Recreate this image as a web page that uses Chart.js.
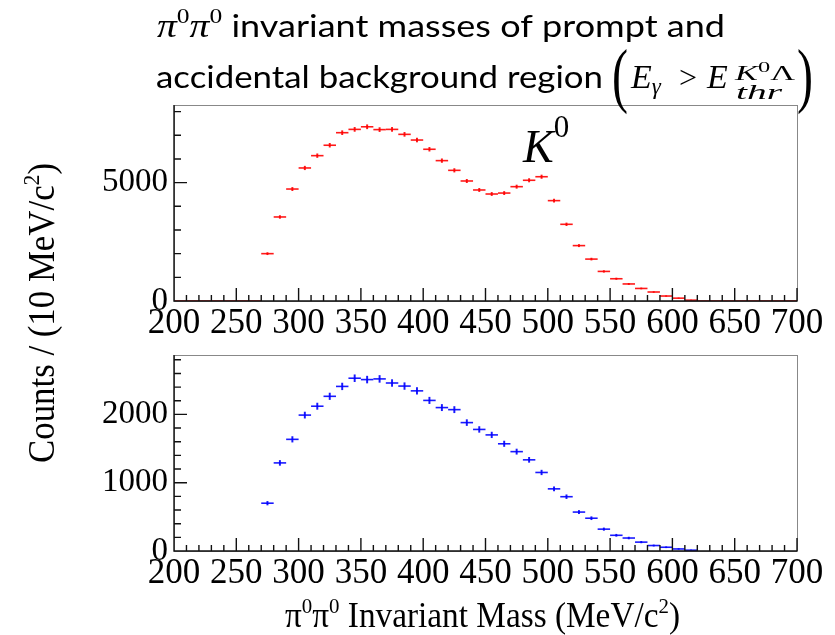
<!DOCTYPE html>
<html>
<head>
<meta charset="utf-8">
<script src="https://cdn.jsdelivr.net/npm/chart.js@4.4.1/dist/chart.umd.min.js"></script>
<style>
    html, body { margin: 0; padding: 0; background: #fff; }
    #wrap { position: relative; width: 835px; height: 635px; }
    #wrap canvas { position: absolute; left: 0; top: 0; }
</style>
</head>
<body>
<div id="wrap">
    <canvas id="prompt-chart" width="835" height="635"></canvas>
    <canvas id="accidental-chart" width="835" height="635"></canvas>
</div>
<script>
// 10 MeV bins from 200 to 700
const binCenters = [205, 215, 225, 235, 245, 255, 265, 275, 285, 295,
                    305, 315, 325, 335, 345, 355, 365, 375, 385, 395,
                    405, 415, 425, 435, 445, 455, 465, 475, 485, 495,
                    505, 515, 525, 535, 545, 555, 565, 575, 585, 595,
                    605, 615, 625, 635, 645, 655, 665, 675, 685, 695];
const binWidth = 10;

// prompt region (red)
const promptCounts = [0, 0, 0, 0, 0, 0, 0, 2000, 3550, 4730,
                      5620, 6140, 6580, 7110, 7250, 7360, 7240, 7250, 7040, 6800,
                      6410, 5930, 5520, 5070, 4690, 4520, 4560, 4830, 5100, 5250,
                      4240, 3240, 2340, 1770, 1250, 940, 720, 530, 380, 210,
                      120, 35, 0, 0, 0, 0, 0, 0, 0, 0];
// accidental background region (blue)
const accidentalCounts = [null, null, null, null, null, null, null, 700, 1290, 1635,
                          1990, 2120, 2265, 2410, 2530, 2510, 2520, 2460, 2415, 2345,
                          2205, 2100, 2070, 1880, 1780, 1700, 1570, 1455, 1335, 1150,
                          910, 795, 570, 480, 320, 230, 190, 130, 80, 55,
                          30, 12, null, null, null, null, null, null, null, null];

// axis ticks (every tick gets a mark, labelled ones get a long mark)
const massLabels = [200, 250, 300, 350, 400, 450, 500, 550, 600, 650, 700];
const promptTicks = [0, 1000, 2000, 3000, 4000, 5000, 6000, 7000, 8000];
const promptLabels = [0, 5000];
const accidentalTicks = [0, 200, 400, 600, 800, 1000, 1200, 1400, 1600, 1800, 2000, 2200, 2400, 2600, 2800];
const accidentalLabels = [0, 1000, 2000];

const SERIF = '"Liberation Serif", "Times New Roman", serif';
const SANS = 'Lato, "Noto Sans", sans-serif';

// ROOT style frame: grey box, black axes, ticks pointing inside
const rootFrame = {
    id: 'rootFrame',
    afterDatasetsDraw(chart) {
        const { ctx, chartArea: a, scales: { x, y } } = chart;
        ctx.save();
        ctx.strokeStyle = '#888';
        ctx.lineWidth = 1;
        ctx.strokeRect(a.left + 0.5, a.top + 0.5, a.right - a.left, a.bottom - a.top);
        ctx.strokeStyle = '#111';
        ctx.lineWidth = 1.4;
        ctx.beginPath();
        ctx.moveTo(a.left, a.top);
        ctx.lineTo(a.left, a.bottom);
        ctx.lineTo(a.right, a.bottom);
        x.ticks.forEach(t => {
            const px = x.getPixelForValue(t.value);
            ctx.moveTo(px, a.bottom);
            ctx.lineTo(px, a.bottom - (t.label ? 13 : 6));
        });
        y.ticks.forEach(t => {
            const py = y.getPixelForValue(t.value);
            ctx.moveTo(a.left, py);
            ctx.lineTo(a.left + (t.label ? 13 : 7), py);
        });
        ctx.stroke();
        ctx.restore();
    }
};

// text made of runs [text, font, dy], squeezed to a given width
function drawRuns(ctx, runs, x, y, width) {
    let total = 0;
    runs.forEach(r => { ctx.font = r[1]; total += ctx.measureText(r[0]).width; });
    const k = width ? width / total : 1;
    ctx.save();
    ctx.translate(x, y);
    ctx.scale(k, 1);
    let cx = 0;
    runs.forEach(r => {
        ctx.font = r[1];
        ctx.fillText(r[0], cx, r[2] || 0);
        cx += ctx.measureText(r[0]).width;
    });
    ctx.restore();
}

const pageText = {
    id: 'pageText',
    afterDraw(chart) {
        const ctx = chart.ctx;
        ctx.save();
        ctx.fillStyle = '#000';
        ctx.textBaseline = 'alphabetic';
        ctx.textAlign = 'left';
        const mi = `italic 34px ${SERIF}`;
        const sup = `22px ${SERIF}`;
        // title
        drawRuns(ctx, [
            ['π', mi], ['0', sup, -14], ['π', mi], ['0', sup, -14],
            [' invariant masses of prompt and', `31px ${SANS}`],
        ], 157, 37, 568);
        drawRuns(ctx, [['accidental background region', `31px ${SANS}`]], 156, 88, 447);
        ctx.font = `72px ${SERIF}`;
        ctx.fillText('(', 612, 99, 16);
        ctx.fillText(')', 797, 99, 16);
        drawRuns(ctx, [['E', mi], ['γ', `italic 23px ${SERIF}`, 6]], 631, 88);
        ctx.font = `32px ${SERIF}`;
        ctx.fillText('>', 679, 88);
        drawRuns(ctx, [['E', mi]], 707, 88);
        drawRuns(ctx, [['K', `italic 21px ${SERIF}`], ['0', `15px ${SERIF}`, -8], ['Λ', `21px ${SERIF}`]], 735, 80, 60);
        drawRuns(ctx, [['thr', `italic 21px ${SERIF}`]], 736, 99, 46);

        // K0 peak label
        drawRuns(ctx, [['K', `italic 46px ${SERIF}`], ['0', `31px ${SERIF}`, -25]], 523, 162);

        // x axis title
        const big = `35px ${SERIF}`;
        const small = `22px ${SERIF}`;
        drawRuns(ctx, [
            ['π', big], ['0', small, -14], ['π', big], ['0', small, -14],
            [' Invariant Mass (MeV/c', big], ['2', small, -14], [')', big],
        ], 285, 627, 395);

        // y axis title
        ctx.translate(54, 463);
        ctx.rotate(-Math.PI / 2);
        drawRuns(ctx, [
            ['Counts / (10 MeV/c', `37px ${SERIF}`], ['2', `23px ${SERIF}`, -15], [')', `37px ${SERIF}`],
        ], 0, 0, 300);
        ctx.restore();
    }
};

function histChart(id, counts, color, yMax, yTicks, yLabels, area, extraPlugins) {
    const points = binCenters.map((x, i) => ({ x, y: counts[i] }));
    const errors = binCenters
        .map((x, i) => ({ x, v: counts[i] }))
        .filter(p => p.v)
        .map(p => ({ x: p.x, y: [p.v - Math.sqrt(p.v), p.v + Math.sqrt(p.v)] }));
    const halfBin = c => {
        const s = c.chart.scales.x;
        return Math.abs(s.getPixelForValue(binWidth) - s.getPixelForValue(0)) / 2;
    };
    const yAxisWidth = 120;
    const xAxisHeight = 42;

    return new Chart(document.getElementById(id), {
        data: {
            datasets: [
                {
                    type: 'bar',
                    data: errors,
                    backgroundColor: color,
                    barThickness: 1.3,
                    grouped: false,
                },
                {
                    type: 'line',
                    data: points,
                    showLine: false,
                    pointStyle: 'line',
                    pointRadius: halfBin,
                    pointHoverRadius: halfBin,
                    pointBorderWidth: 1.6,
                    pointBorderColor: color,
                    pointBackgroundColor: color,
                    clip: 3,
                },
            ],
        },
        options: {
            responsive: false,
            animation: false,
            events: [],
            layout: {
                padding: {
                    left: area.left - yAxisWidth,
                    right: 835 - area.right,
                    top: area.top,
                    bottom: 635 - area.bottom - xAxisHeight,
                },
            },
            plugins: {
                legend: { display: false },
                tooltip: { enabled: false },
            },
            scales: {
                x: {
                    type: 'linear',
                    min: 200,
                    max: 700,
                    offset: false,
                    grid: { display: false, drawTicks: false },
                    border: { display: false },
                    ticks: {
                        autoSkip: false,
                        maxRotation: 0,
                        padding: 2,
                        color: '#000',
                        font: { family: SERIF, size: 35 },
                        callback: v => massLabels.includes(v) ? String(v) : '',
                    },
                    afterBuildTicks: s => {
                        s.ticks = binCenters.map(c => ({ value: c - binWidth / 2 }));
                        s.ticks.push({ value: 700 });
                    },
                    afterFit: s => { s.height = xAxisHeight; s.paddingLeft = 0; s.paddingRight = 0; },
                },
                y: {
                    type: 'linear',
                    min: 0,
                    max: yMax,
                    grid: { display: false, drawTicks: false },
                    border: { display: false },
                    ticks: {
                        autoSkip: false,
                        padding: 6,
                        color: '#000',
                        font: { family: SERIF, size: 33 },
                        callback: v => yLabels.includes(v) ? String(v) : '',
                    },
                    afterBuildTicks: s => { s.ticks = yTicks.map(v => ({ value: v })); },
                    afterFit: s => { s.width = yAxisWidth; s.paddingTop = 0; s.paddingBottom = 0; },
                },
            },
        },
        plugins: [rootFrame, ...extraPlugins],
    });
}

histChart('prompt-chart', promptCounts, 'rgba(255,0,0,0.9)', 8280, promptTicks, promptLabels,
    { left: 174, right: 797, top: 105, bottom: 301 }, [pageText]);
histChart('accidental-chart', accidentalCounts, 'rgba(0,0,255,0.9)', 2870, accidentalTicks, accidentalLabels,
    { left: 174, right: 797, top: 355, bottom: 551 }, []);
</script>
</body>
</html>
